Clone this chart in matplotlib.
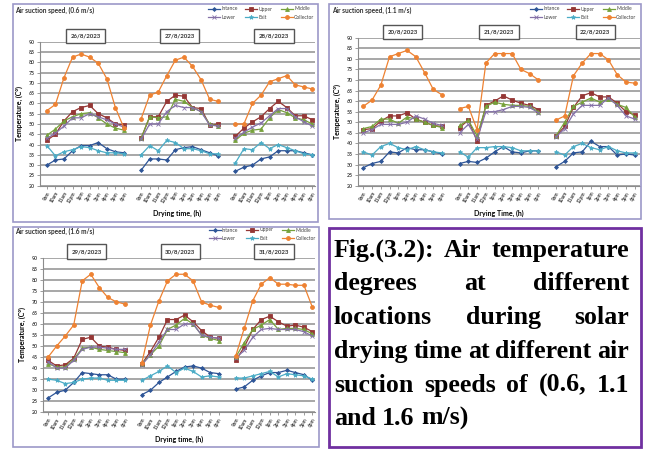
import matplotlib
matplotlib.use("Agg")
import matplotlib.pyplot as plt
from matplotlib.lines import Line2D
from matplotlib.patches import Rectangle

W, H = 646, 450

hours = ["9am", "10am", "11am", "12pm", "1pm", "2pm", "3pm", "4pm", "5pm", "6pm"]
series_names = ["Intance", "Upper", "Middle", "Lower", "Exit", "Collector"]

# ---- air suction speed 0.6 m/s
days_06 = ["26/8/2023", "27/8/2023", "28/8/2023"]
intance_06 = [30, 32.5, 33, 37, 39.5, 39.5, 41, 38, 36.5, 36,
              27.5, 33, 33, 32.5, 37.5, 38.5, 39, 37.5, 36, 34.5,
              27, 29, 30, 33, 34, 37, 37, 37, 36, 35]
upper_06 = [42, 45, 51.5, 56, 58, 59, 55, 53, 50, 49.5,
            43, 53.5, 53.5, 61, 64, 63.5, 58, 57.5, 49.5, 50,
            44, 48, 51, 53.5, 57.5, 61, 58, 54, 54, 52]
middle_06 = [44.5, 47.5, 51.5, 53.5, 55, 55.5, 53, 50, 48, 47,
             43, 53.5, 53, 53.5, 62, 61, 58, 56, 50, 49,
             42, 45.5, 47, 47.5, 53, 57, 55.5, 53, 52, 50]
lower_06 = [43, 45.5, 49, 53, 53, 55, 53.5, 52, 50, 48.5,
            42.5, 50, 50, 56, 59, 58, 58, 56, 49.5, 49,
            43, 46, 48.5, 50.5, 54, 57.5, 57.5, 53.5, 51, 49]
exit_06 = [39.5, 34.5, 36.5, 37.5, 39, 38.5, 37, 36, 36, 35.5,
           35, 39.5, 37, 42, 41, 38, 38, 37, 35.5, 35.5,
           31, 38, 37.5, 41, 38, 40, 38.5, 37, 35.5, 35]
collector_06 = [56.5, 59.5, 72.5, 82.5, 84, 82.5, 79.5, 72, 58, 48,
                52.5, 64, 65.5, 73.5, 81, 82.5, 78, 71.5, 62, 61,
                50, 50, 60, 64, 70.5, 72, 73.5, 69, 68, 67]

# ---- air suction speed 1.1 m/s
days_11 = ["20/8/2023", "21/8/2023", "22/8/2023"]
intance_11 = [28.5, 30.5, 31.5, 36, 35.5, 38, 37, 37, 36, 35,
              30.5, 31.5, 31, 33, 36, 38.5, 36, 35.5, 36.5, 36.5,
              29, 31.5, 35.5, 36, 41, 38.5, 38.5, 34.5, 35, 34.5]
upper_11 = [46.5, 47, 50.5, 53, 53, 54.5, 51.5, 50, 48.5, 48,
            47.5, 51, 41, 58, 60, 62.5, 60.5, 59, 58, 56,
            43.5, 48, 57, 62.5, 64, 62, 62, 59, 55, 53.5]
middle_11 = [47, 48, 51.5, 51.5, 49.5, 52.5, 51.5, 50, 48.5, 47.5,
             48.5, 51, 43.5, 57.5, 59.5, 58.5, 58, 58, 57.5, 55,
             43.5, 50, 57.5, 59.5, 61.5, 59.5, 61, 58.5, 57, 52.5]
lower_11 = [45, 46.5, 49, 49, 49, 50, 53, 51.5, 49.5, 48.5,
            45, 49, 42, 55, 55, 56, 57.5, 57.5, 57, 54.5,
            43, 47, 54, 58, 58, 58, 61.5, 58, 53, 51.5]
exit_11 = [36, 34.5, 38.5, 40, 38, 37, 38.5, 37, 36, 35.5,
           36, 33.5, 38, 38, 38.5, 38.5, 38, 36.5, 36.5, 36.5,
           36, 34.5, 38.5, 40, 38, 37, 38.5, 36.5, 35.5, 35.5]
collector_11 = [57.5, 60.5, 67.5, 81, 82.5, 84, 81, 73.5, 65.5, 63,
                56.5, 57.5, 46.5, 78, 82.5, 82.5, 82.5, 75, 73, 70,
                51, 53, 72, 78, 82.5, 82.5, 79.5, 72.5, 69, 68.5]

# ---- air suction speed 1.6 m/s
days_16 = ["29/8/2023", "30/8/2023", "31/8/2023"]
intance_16 = [26.5, 29, 30, 33.5, 38, 37.5, 37, 37, 35, 35,
              28, 30, 33.5, 36, 38.5, 40.5, 41, 40, 38, 37.5,
              30.5, 31.5, 34.5, 36.5, 38, 38, 39, 38, 37, 34.5]
upper_16 = [43.5, 41, 41.5, 44.5, 53, 54, 50, 49.5, 48.5, 48,
            42, 47.5, 54, 62, 62, 64, 61, 57, 54, 53.5,
            43.5, 49.5, 57.5, 62, 63.5, 61, 59, 59.5, 58.5, 56.5]
middle_16 = [42, 40.5, 40.5, 44, 49, 49.5, 48.5, 48, 47.5, 47,
             42, 46, 50, 57.5, 59.5, 62.5, 60, 55, 53.5, 52.5,
             45, 51.5, 57.5, 59.5, 62, 57.5, 58, 58, 57.5, 55.5]
lower_16 = [43, 40, 40, 43.5, 48.5, 49.5, 49.5, 49, 48.5, 48.5,
            41.5, 46, 52, 57.5, 57.5, 60, 60, 55, 54, 53.5,
            44.5, 48, 54, 57.5, 58, 57.5, 57.5, 57.5, 56.5, 54.5]
exit_16 = [35, 34.5, 33, 33.5, 35, 35.5, 35.5, 34.5, 34.5, 34.5,
           34.5, 36.5, 38.5, 41, 38, 40, 38.5, 36, 36.5, 36,
           35.5, 35.5, 36.5, 37.5, 38.5, 36, 37.5, 37, 36.5, 35]
collector_16 = [45, 50, 54.5, 59.5, 79.5, 82.5, 76.5, 72, 70, 69,
                42.5, 59.5, 70.5, 79.5, 82.5, 82.5, 79.5, 70, 68.5, 67.5,
                45.5, 58, 70.5, 78, 81, 78, 78, 77.5, 77.5, 67.5]

colors = ["#2E5597", "#953735", "#76A13B", "#8571A8", "#4BACC6", "#EE8232"]
markers = ["D", "s", "^", "x", "*", "o"]
msizes = [2.0, 2.6, 2.8, 2.6, 3.2, 2.8]

FONT = "Lato"
plt.rcParams["font.family"] = FONT

fig = plt.figure(figsize=(W / 100, H / 100), dpi=100)


def fx(px):
    return px / W


def fy(py):
    return 1 - py / H


def box(x0, y0, x1, y1, color, lw):
    fig.patches.append(Rectangle((fx(x0), fy(y1)), fx(x1 - x0), (y1 - y0) / H,
                                 transform=fig.transFigure, fill=False,
                                 edgecolor=color, linewidth=lw))


def panel(rect, xlim, title, title_xy, days, data, xlabel, leg_xy):
    left, top, right, bottom = rect
    ax = fig.add_axes([fx(left), fy(bottom), fx(right - left), (bottom - top) / H])
    for k, vals in enumerate(data):
        for d in range(3):
            xs = [d * 11 + i for i in range(10)]
            ax.plot(xs, vals[d * 10:(d + 1) * 10], color=colors[k], lw=0.9,
                    marker=markers[k], ms=msizes[k], mew=0.6,
                    mec=colors[k], zorder=3)
    ax.set_ylim(20, 90)
    ax.set_xlim(*xlim)
    ax.set_yticks(range(20, 91, 5))
    ax.yaxis.grid(True, color="#8F8F8F", lw=1.1)
    ax.set_axisbelow(True)
    for s in ["top", "right"]:
        ax.spines[s].set_visible(False)
    for s in ["left", "bottom"]:
        ax.spines[s].set_color("#8C8C8C")
        ax.spines[s].set_linewidth(0.8)
    pos = [d * 11 + i for d in range(3) for i in range(10)]
    ax.set_xticks(pos)
    ax.set_xticklabels(hours * 3, rotation=60, ha="right", rotation_mode="anchor",
                       fontsize=3.5, fontweight="bold", color="#404040")
    ax.tick_params(axis="y", labelsize=3.7, length=2, width=0.6, color="#8C8C8C",
                   labelcolor="#404040", pad=2)
    ax.tick_params(axis="x", length=2, width=0.6, color="#8C8C8C", pad=1.5)
    for t in ax.get_yticklabels():
        t.set_fontweight("bold")
    ax.set_ylabel("Temperature, (C°)", fontsize=5, fontweight="bold", labelpad=4)
    ax.set_xlabel(xlabel, fontsize=5, fontweight="bold", labelpad=4)
    for d in range(3):
        ax.text(d * 11 + 4.5, 1.04, days[d], transform=ax.get_xaxis_transform(),
                ha="center", va="center", fontsize=4.4, fontweight="bold",
                color="#303030",
                bbox=dict(boxstyle="square,pad=0.75", fc="white",
                          ec="#555555", lw=1.0))
    fig.text(fx(title_xy[0]), fy(title_xy[1]), title, fontsize=4.7,
             fontweight="bold", color="#303030", va="center", ha="left")
    handles = [Line2D([], [], color=colors[k], lw=0.9, marker=markers[k],
                      ms=msizes[k], mew=0.6) for k in range(6)]
    order = [0, 3, 1, 4, 2, 5]
    leg = ax.legend([handles[k] for k in order], [series_names[k] for k in order],
                    ncol=3, loc="upper right", bbox_to_anchor=(fx(leg_xy[0]), fy(leg_xy[1])),
                    bbox_transform=fig.transFigure, frameon=False, fontsize=3.6,
                    handlelength=2.4, handletextpad=0.3, columnspacing=1.6,
                    labelspacing=0.7, borderpad=0)
    for t in leg.get_texts():
        t.set_color("#404040")
    return ax


panel((40, 41.7, 315, 185.7), (-0.8, 31.3), "Air suction speed, (0.6 m/s)", (15, 10),
      days_06, [intance_06, upper_06, middle_06, lower_06, exit_06, collector_06],
      "Drying time, (h)", (317, 4))
panel((358, 37.7, 640, 185.7), (-0.6, 31.6), "Air suction speed, (1.1 m/s)", (332, 10),
      days_11, [intance_11, upper_11, middle_11, lower_11, exit_11, collector_11],
      "Drying Time, (h)", (639, 4))
panel((43, 257.7, 315, 412.3), (-0.6, 31.3), "Air suction speed, (1.6 m/s)", (15, 231),
      days_16, [intance_16, upper_16, middle_16, lower_16, exit_16, collector_16],
      "Drying time, (h)", (318, 225))

# panel frames
box(13, 4, 318, 222, "#9C98C8", 1.2)
box(329, 4, 641, 219, "#9C98C8", 1.2)
box(13, 227, 319, 447, "#9C98C8", 1.2)
box(329, 228, 641, 447, "#7030A0", 2.0)

# justified caption
lines = [["Fig.(3.2):", "Air", "temperature"],
         ["degrees", "at", "different"],
         ["locations", "during", "solar"],
         ["drying", "time", "at", "different", "air"],
         ["suction", "speeds", "of", "(0.6,", "1.1"],
         ["and", "1.6", "m/s)"]]
x_left, x_right = 334, 629
baselines = [257, 290, 324, 358, 392, 425]
fig.canvas.draw()
r = fig.canvas.get_renderer()
cap_size = 18.6
cap_font = dict(family="Liberation Serif", fontweight="bold", fontsize=cap_size, color="black")
sp_w = cap_size * 100 / 72 * 0.25
for li, words in enumerate(lines):
    texts = [fig.text(0, fy(baselines[li]), w, va="baseline", ha="left", **cap_font)
             for w in words]
    widths = [t.get_window_extent(r).width for t in texts]
    if li < len(lines) - 1:
        gap = (x_right - x_left - sum(widths)) / (len(words) - 1)
    else:
        gap = sp_w
    x = x_left
    for t, w in zip(texts, widths):
        t.set_x(fx(x))
        x += w + gap

fig.savefig("out.png", dpi=100)
